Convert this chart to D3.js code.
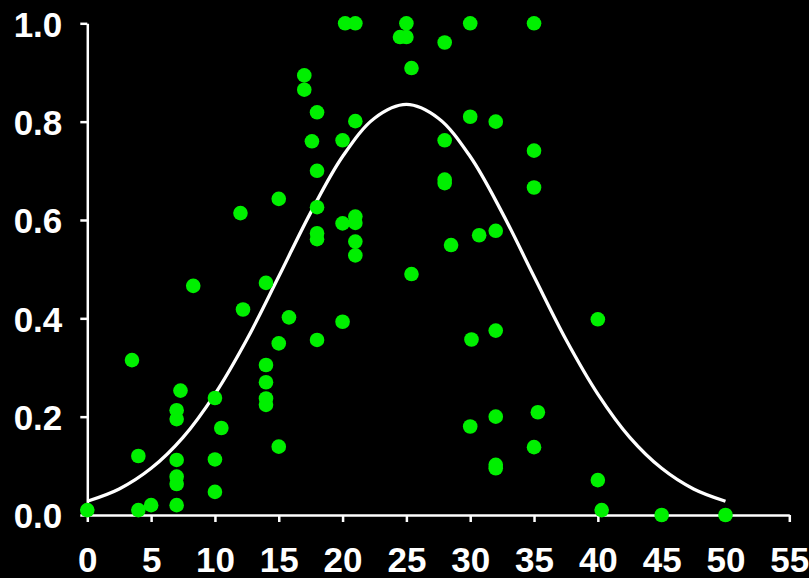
<!DOCTYPE html>
<html>
<head>
<meta charset="utf-8">
<script src="https://cdn.jsdelivr.net/npm/d3@7"></script>
<style>
  html, body { margin: 0; padding: 0; background: #000; }
  svg { display: block; }
  .axis path, .axis line { stroke: #fff; stroke-width: 2.5; }
  .axis text { fill: #fff; font-family: "Liberation Sans", Arial, sans-serif; font-weight: bold; font-size: 35px; }
</style>
</head>
<body>
<svg id="chart" width="809" height="578"></svg>
<script>
// Observed samples: x position and response
const pointX = [
  0, 3.5, 4, 4, 5,
  7, 7, 7, 7, 7, 7, 7.3, 8.3,
  10, 10, 10, 10.5, 12, 12.2,
  14, 14, 14, 14, 14, 15, 15, 15, 15.8,
  17, 17, 17.6, 18, 18, 18, 18, 18, 18,
  20, 20, 20, 20.2, 21, 21, 21, 21, 21, 21,
  24.5, 25, 25, 25.4, 25.4,
  28, 28, 28, 28, 28.5,
  30, 30, 30, 30.1, 30.7,
  32, 32, 32, 32, 32, 32,
  35, 35, 35, 35, 35.3,
  40, 40, 40.3, 45, 50
];
const pointY = [
  0.01, 0.315, 0.12, 0.01, 0.02,
  0.213, 0.195, 0.112, 0.078, 0.063, 0.02, 0.253, 0.466,
  0.238, 0.113, 0.047, 0.177, 0.614, 0.418,
  0.472, 0.305, 0.27, 0.237, 0.224, 0.643, 0.349, 0.139, 0.402,
  0.894, 0.865, 0.76, 0.819, 0.70, 0.626, 0.573, 0.561, 0.356,
  0.762, 0.593, 0.393, 1.0, 1.0, 0.801, 0.607, 0.594, 0.556, 0.528,
  0.972, 1.0, 0.972, 0.909, 0.49,
  0.961, 0.762, 0.682, 0.675, 0.549,
  1.0, 0.81, 0.18, 0.357, 0.569,
  0.80, 0.578, 0.375, 0.2, 0.102, 0.095,
  1.0, 0.741, 0.666, 0.138, 0.209,
  0.398, 0.071, 0.01, 0.0, 0.0
];

// Fitted bell curve, sampled every 2.5 units
const curveX = [0, 2.5, 5, 7.5, 10, 12.5, 15, 17.5, 20, 22.5, 25,
                27.5, 30, 32.5, 35, 37.5, 40, 42.5, 45, 47.5, 50];
const curveY = [0.028, 0.053, 0.095, 0.158, 0.246, 0.357, 0.485, 0.615, 0.729, 0.807, 0.835,
                0.807, 0.729, 0.615, 0.485, 0.357, 0.246, 0.158, 0.095, 0.053, 0.028];

// Axis ticks
const xTicks = [0, 5, 10, 15, 20, 25, 30, 35, 40, 45, 50, 55];
const yTicks = [0, 0.2, 0.4, 0.6, 0.8, 1.0];

const svg = d3.select("#chart");

const x = d3.scaleLinear().domain([0, 55]).range([87.3, 789.3]);
const y = d3.scaleLinear().domain([0, 1]).range([515, 23.3]);

// Axes
svg.append("g")
  .attr("class", "axis")
  .attr("transform", `translate(0,${y(0)})`)
  .call(d3.axisBottom(x).tickValues(xTicks).tickFormat(d3.format("d"))
        .tickSizeInner(7).tickSizeOuter(0).tickPadding(25));

const yAxis = svg.append("g")
  .attr("class", "axis")
  .attr("transform", `translate(${x(0)},0)`)
  .call(d3.axisLeft(y).tickValues(yTicks).tickFormat(d3.format(".1f"))
        .tickSizeInner(7).tickSizeOuter(0).tickPadding(18));
yAxis.selectAll("text").attr("dy", "0.37em");

// Fitted curve
const curveData = curveX.map((cx, i) => [cx, curveY[i]]);
svg.append("path")
  .datum(curveData)
  .attr("fill", "none")
  .attr("stroke", "#fff")
  .attr("stroke-width", 3.3)
  .attr("d", d3.line()
    .x(d => x(d[0]))
    .y(d => y(d[1]))
    .curve(d3.curveCatmullRom.alpha(0.5)));

// Sample points
const pts = pointX.map((px, i) => [px, pointY[i]]);
svg.append("g")
  .selectAll("circle")
  .data(pts)
  .join("circle")
  .attr("cx", d => x(d[0]))
  .attr("cy", d => y(d[1]))
  .attr("r", 7.3)
  .attr("fill", "#00f000");
</script>
</body>
</html>
